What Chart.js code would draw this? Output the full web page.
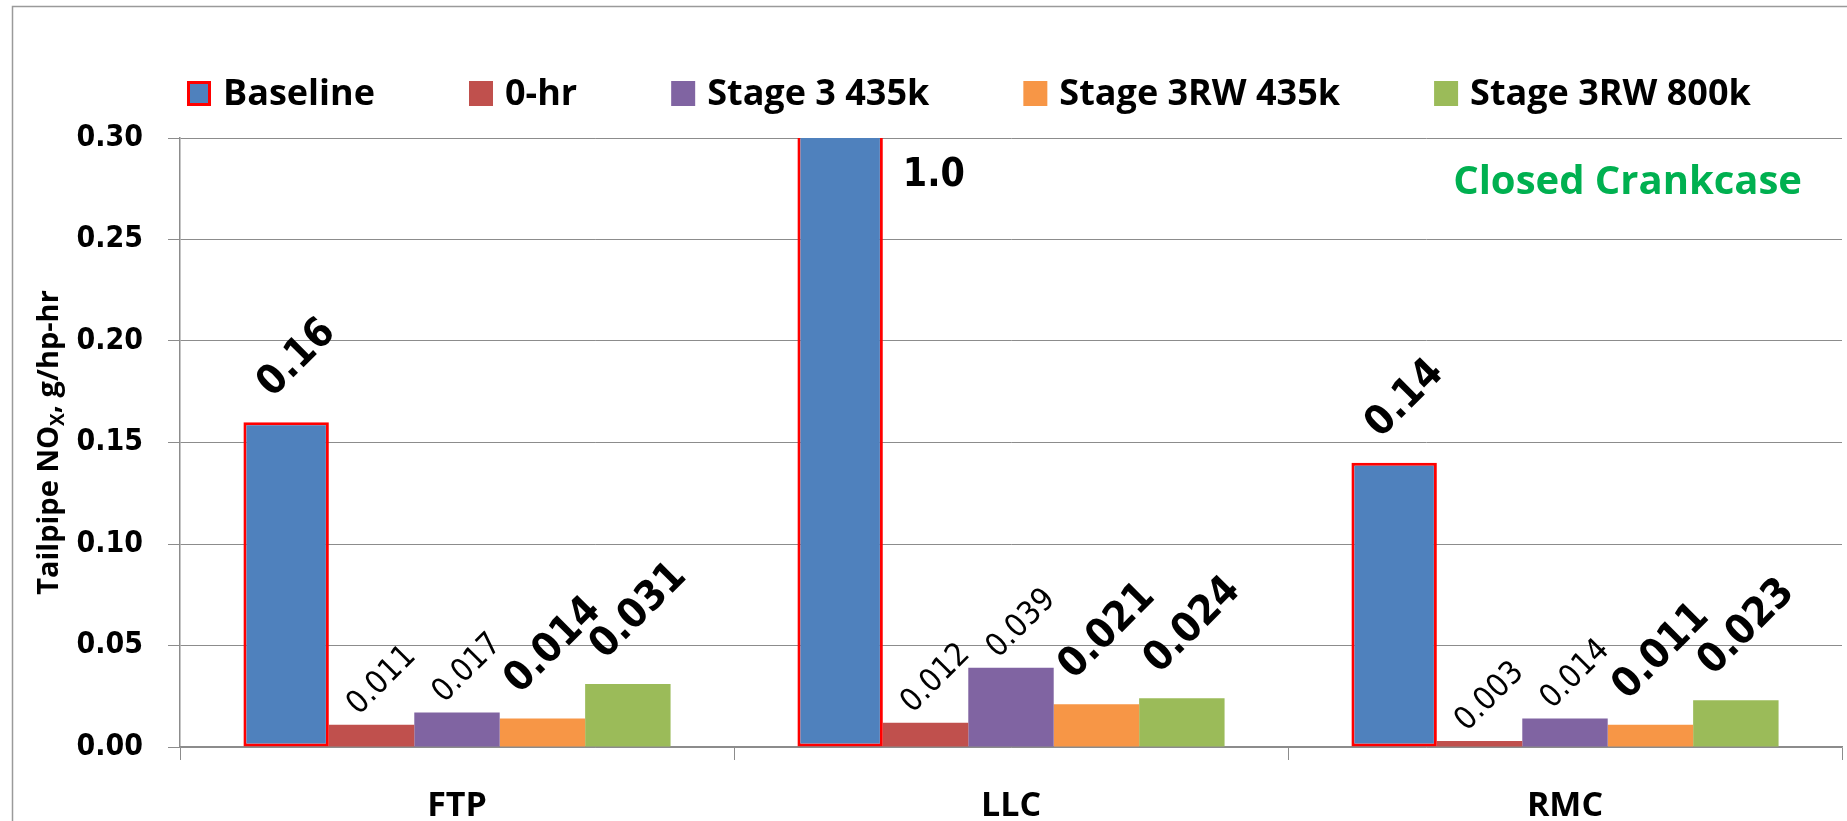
<!DOCTYPE html>
<html>
<head>
<meta charset="utf-8">
<script src="https://cdn.jsdelivr.net/npm/chart.js@4.4.1/dist/chart.umd.min.js"></script>
<style>
  html, body { margin: 0; padding: 0; background: #fff; }
  #noxChart { display: block; }
</style>
</head>
<body>
<canvas id="noxChart" width="1847" height="821"></canvas>
<script>
const categories = ['FTP', 'LLC', 'RMC'];
const seriesNames = ['Baseline', '0-hr', 'Stage 3 435k', 'Stage 3RW 435k', 'Stage 3RW 800k'];
const baselineValues = [0.16, 1.0, 0.14];
const zeroHrValues = [0.011, 0.012, 0.003];
const stage3Values = [0.017, 0.039, 0.014];
const stage3rw435Values = [0.014, 0.021, 0.011];
const stage3rw800Values = [0.031, 0.024, 0.023];
const yTickValues = [0, 0.05, 0.10, 0.15, 0.20, 0.25, 0.30];

const seriesValues = [baselineValues, zeroHrValues, stage3Values, stage3rw435Values, stage3rw800Values];
const seriesColors = ['#4F81BD', '#C0504D', '#8064A2', '#F79646', '#9BBB59'];
const boldSeries = [true, false, false, true, true];

const labelFamily = "'DejaVu Sans Condensed', 'DejaVu Sans', sans-serif";
const textFamily = "'Open Sans', sans-serif";
const gridColor = '#8c8c8c';

function formatValue(seriesIndex, v) {
    if (v >= 1) return v.toFixed(1);
    return seriesIndex === 0 ? v.toFixed(2) : v.toFixed(3);
}

// frame, legend, axis title and note
const decorations = {
    id: 'decorations',
    afterDraw(chart) {
        const ctx = chart.ctx;
        const area = chart.chartArea;
        ctx.save();

        // outer frame
        ctx.strokeStyle = '#9a9a9a';
        ctx.lineWidth = 1.5;
        ctx.beginPath();
        ctx.moveTo(12.5, chart.height);
        ctx.lineTo(12.5, 6.5);
        ctx.lineTo(chart.width, 6.5);
        ctx.stroke();

        // legend row
        ctx.font = 'bold 36px ' + textFamily;
        ctx.textBaseline = 'alphabetic';
        ctx.textAlign = 'left';
        let x = 187;
        seriesNames.forEach((name, i) => {
            ctx.fillStyle = seriesColors[i];
            ctx.fillRect(x, 81, 24, 25);
            if (i === 0) {
                ctx.strokeStyle = '#FF0000';
                ctx.lineWidth = 3;
                ctx.strokeRect(x + 1.5, 82.5, 21, 22);
            }
            ctx.fillStyle = '#000';
            ctx.fillText(name, x + 36, 105);
            x += 36 + ctx.measureText(name).width + 94;
        });

        // y axis title with subscript
        const big = 'bold 29px ' + textFamily;
        const small = 'bold 19px ' + textFamily;
        const parts = [['Tailpipe NO', big, 0], ['X', small, 6], [', g/hp-hr', big, 0]];
        let total = 0;
        parts.forEach(p => { ctx.font = p[1]; total += ctx.measureText(p[0]).width; });
        ctx.translate(58, (area.top + area.bottom) / 2);
        ctx.rotate(-Math.PI / 2);
        ctx.fillStyle = '#000';
        let tx = -total / 2;
        parts.forEach(p => {
            ctx.font = p[1];
            ctx.fillText(p[0], tx, p[2]);
            tx += ctx.measureText(p[0]).width;
        });
        ctx.setTransform(1, 0, 0, 1, 0, 0);

        // note in the corner
        ctx.font = 'bold 40px ' + textFamily;
        ctx.fillStyle = '#00B050';
        ctx.textAlign = 'right';
        ctx.fillText('Closed Crankcase', 1802, 194);
        ctx.restore();
    }
};

// value labels above the bars
const valueLabels = {
    id: 'valueLabels',
    afterDatasetsDraw(chart) {
        const ctx = chart.ctx;
        const area = chart.chartArea;
        chart.data.datasets.forEach((ds, i) => {
            const meta = chart.getDatasetMeta(i);
            const bold = boldSeries[i];
            const size = bold ? 41 : 32;
            const gap = bold ? 24 : 9;
            meta.data.forEach((bar, j) => {
                const text = formatValue(i, ds.data[j]);
                ctx.save();
                ctx.fillStyle = '#000';
                if (bar.y < area.top) {
                    // bar runs off the top of the axis
                    ctx.font = 'bold 39px ' + labelFamily;
                    ctx.textAlign = 'left';
                    ctx.fillText(text, bar.x + bar.width / 2 + 20, area.top + 48);
                } else {
                    ctx.font = (bold ? 'bold ' : '') + size + 'px ' + labelFamily;
                    const w = ctx.measureText(text).width;
                    const h = size * 0.73;
                    const half = (w + h) * Math.SQRT1_2 / 2;
                    ctx.translate(bar.x + 8, bar.y - half - gap);
                    ctx.rotate(-Math.PI / 4);
                    ctx.textAlign = 'center';
                    ctx.textBaseline = 'alphabetic';
                    ctx.fillText(text, 0, h / 2);
                }
                ctx.restore();
            });
        });
    }
};

const ctx = document.getElementById('noxChart').getContext('2d');
const noxChart = new Chart(ctx, {
    type: 'bar',
    data: {
        labels: categories,
        datasets: seriesNames.map((name, i) => ({
            label: name,
            data: seriesValues[i],
            backgroundColor: seriesColors[i],
            borderColor: i === 0 ? '#FF0000' : seriesColors[i],
            borderWidth: i === 0 ? 3 : 0,
            borderSkipped: false,
            clip: 0
        }))
    },
    options: {
        responsive: false,
        animation: false,
        devicePixelRatio: 1,
        layout: { padding: { top: 138, right: 5, bottom: 0, left: 0 } },
        datasets: {
            bar: { categoryPercentage: 0.771, barPercentage: 1 }
        },
        plugins: {
            legend: { display: false },
            tooltip: { enabled: false }
        },
        scales: {
            x: {
                offset: true,
                grid: {
                    offset: true,
                    drawOnChartArea: false,
                    drawTicks: true,
                    tickLength: 13,
                    color: gridColor
                },
                border: { color: gridColor, width: 1.5 },
                ticks: {
                    color: '#000',
                    padding: 26,
                    font: { family: textFamily, size: 34, weight: 'bold' }
                },
                afterFit(scale) { scale.height = 74; }
            },
            y: {
                min: 0,
                max: 0.3,
                afterBuildTicks(scale) {
                    scale.ticks = yTickValues.map(v => ({ value: v }));
                },
                grid: {
                    color: gridColor,
                    lineWidth: 1,
                    drawTicks: true,
                    tickLength: 12
                },
                border: { color: gridColor, width: 1.5 },
                ticks: {
                    color: '#000',
                    padding: 25,
                    font: { family: labelFamily, size: 30, weight: 'bold' },
                    callback: v => Number(v).toFixed(2)
                },
                afterFit(scale) { scale.width = 180; }
            }
        }
    },
    plugins: [valueLabels, decorations]
});
</script>
</body>
</html>
